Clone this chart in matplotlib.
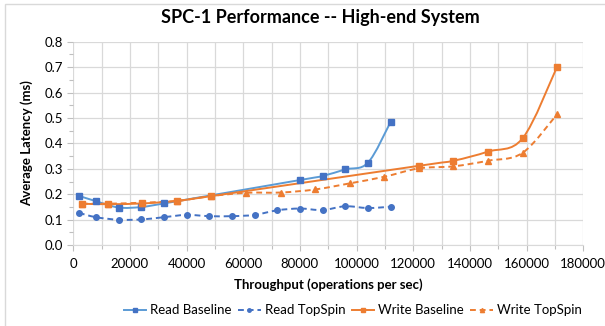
import numpy as np
import matplotlib
matplotlib.use("Agg")
import matplotlib.pyplot as plt
from matplotlib.path import Path
from matplotlib.patches import PathPatch, Rectangle
from matplotlib.lines import Line2D
from matplotlib.ticker import MultipleLocator

plt.rcParams['font.family'] = ['Lato', 'DejaVu Sans']

# data
read_base_x = [2000, 8000, 16000, 24000, 32000, 80000, 88000, 96000, 104000, 112000]
read_base_y = [0.194, 0.173, 0.148, 0.150, 0.164, 0.256, 0.272, 0.298, 0.324, 0.484]

read_ts_x = [2000, 8000, 16000, 24000, 32000, 40000, 48000, 56000, 64000, 72000,
             80000, 88000, 96000, 104000, 112000]
read_ts_y = [0.127, 0.110, 0.100, 0.101, 0.110, 0.119, 0.114, 0.114, 0.119, 0.137,
             0.144, 0.138, 0.153, 0.146, 0.151]

write_base_x = [3050, 12200, 24400, 36600, 48800, 122000, 134200, 146400, 158600, 170800]
write_base_y = [0.163, 0.161, 0.164, 0.174, 0.193, 0.312, 0.332, 0.368, 0.420, 0.702]

write_ts_x = [3050, 12200, 24400, 36600, 48800, 61000, 73200, 85400, 97600, 109800,
              122000, 134200, 146400, 158600, 170800]
write_ts_y = [0.163, 0.163, 0.167, 0.174, 0.193, 0.206, 0.207, 0.219, 0.243, 0.269,
              0.302, 0.310, 0.332, 0.363, 0.515]

BLUE = '#4472C4'
LBLUE = '#5B9BD5'
ORANGE = '#ED7D31'


def smooth_path(xs, ys):
	# Excel-style smoothed line: cubic bezier through the points
	p = np.column_stack([xs, ys]).astype(float)
	n = len(p)
	verts = [p[0]]
	codes = [Path.MOVETO]
	for i in range(n - 1):
		p0 = p[i - 1] if i > 0 else p[i]
		p3 = p[i + 2] if i + 2 < n else p[i + 1]
		c1 = p[i] + (p[i + 1] - p0) / 6.0
		c2 = p[i + 1] - (p3 - p[i]) / 6.0
		verts += [c1, c2, p[i + 1]]
		codes += [Path.CURVE4] * 3
	return Path(verts, codes)


fig = plt.figure(figsize=(6.05, 3.26), dpi=100)
ax = fig.add_axes([0.121, 0.248, 0.843, 0.624])

series = [
	(read_base_x, read_base_y, LBLUE, BLUE, '-', 's', 4.5, 'Read Baseline'),
	(read_ts_x, read_ts_y, BLUE, BLUE, (0, (3, 2)), 'o', 4, 'Read TopSpin'),
	(write_base_x, write_base_y, ORANGE, ORANGE, '-', 's', 4.5, 'Write Baseline'),
	(write_ts_x, write_ts_y, ORANGE, ORANGE, (0, (3, 2)), '^', 4.5, 'Write TopSpin'),
]

handles = []
for xs, ys, lc, mc, ls, mk, ms, name in series:
	patch = PathPatch(smooth_path(xs, ys), facecolor='none', edgecolor=lc,
					  lw=1.4, linestyle=ls, zorder=3)
	ax.add_patch(patch)
	ax.plot(xs, ys, linestyle='none', marker=mk, ms=ms, color=mc, zorder=4)
	handles.append(Line2D([], [], color=lc, lw=1.4, linestyle=ls, marker=mk,
						  ms=ms - 1.5, markerfacecolor=mc, markeredgecolor=mc))

ax.set_xlim(0, 180000)
ax.set_ylim(0, 0.8)
ax.xaxis.set_major_locator(MultipleLocator(20000))
ax.xaxis.set_minor_locator(MultipleLocator(10000))
ax.yaxis.set_major_locator(MultipleLocator(0.1))
ax.yaxis.set_minor_locator(MultipleLocator(0.05))
ax.yaxis.set_major_formatter(matplotlib.ticker.FormatStrFormatter('%.1f'))
ax.grid(which='major', axis='y', color='#D9D9D9', lw=0.9)
ax.grid(which='both', axis='x', color='#D9D9D9', lw=0.9)
ax.set_axisbelow(True)
for s in ax.spines.values():
	s.set_visible(False)
ax.spines['bottom'].set_visible(True)
ax.spines['bottom'].set_color('#D9D9D9')
ax.tick_params(which='both', colors='#BFBFBF', labelcolor='black', labelsize=9.5)
ax.tick_params(which='major', length=4, width=0.8)
ax.tick_params(which='minor', length=3, width=0.8)
ax.tick_params(axis='x', pad=5)

ax.set_xlabel('Throughput (operations per sec)', fontsize=9.5, fontweight='bold', labelpad=6)
ax.set_ylabel('Average Latency (ms)', fontsize=9.5, fontweight='bold', labelpad=8)
fig.text(0.53, 0.945, 'SPC-1 Performance -- High-end System', ha='center', va='center',
		 fontsize=13, fontweight='bold')

fig.legend(handles=handles, labels=[s[-1] for s in series], loc='center',
		   bbox_to_anchor=(0.583, 0.048), ncol=4, frameon=False, fontsize=9.5,
		   handlelength=1.7, handletextpad=0.3, columnspacing=0.5)

fig.patches.append(Rectangle((5 / 605, -0.1), 1.2, 1.1 - 4 / 326, transform=fig.transFigure,
							 fill=False, edgecolor='#D9D9D9', lw=1))

fig.savefig('out.png', dpi=100)
